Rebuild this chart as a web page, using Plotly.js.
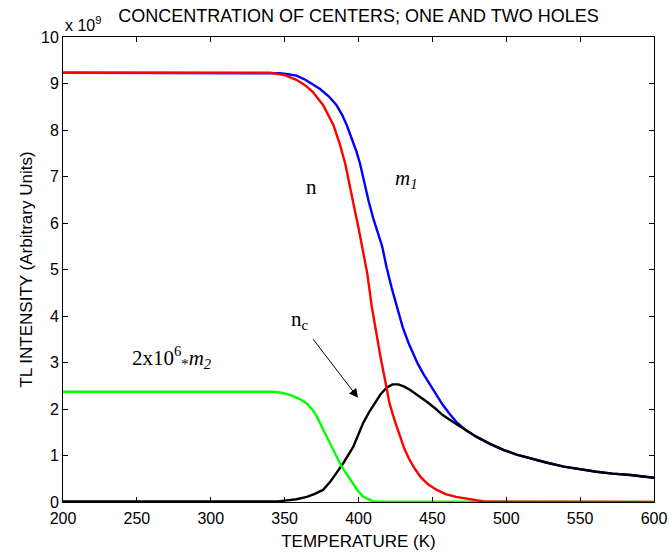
<!DOCTYPE html>
<html>
<head>
<meta charset="utf-8">
<script src="https://cdn.plot.ly/plotly-3.0.1.min.js"></script>
<style>html,body{margin:0;padding:0;background:#fff;}#chart{width:670px;height:554px;}</style>
</head>
<body>
<div id="chart"></div>
<script>
// Temperature (K) and values (x 10^9)
const tempM1 = [200, 340, 347, 352, 358, 364, 370, 374, 380, 385, 389, 392, 395, 398.7, 401, 404, 407, 410, 413, 416, 419, 422.5, 427, 430, 434, 440, 444, 448, 452, 457, 462, 466, 472, 480, 489, 498, 507, 516, 527, 539, 550, 561, 572, 584, 600];
const valM1  = [9.23, 9.23, 9.22, 9.20, 9.17, 9.08, 8.97, 8.88, 8.72, 8.54, 8.32, 8.11, 7.85, 7.53, 7.28, 6.85, 6.45, 6.10, 5.80, 5.50, 5.05, 4.60, 4.09, 3.75, 3.41, 2.98, 2.75, 2.55, 2.34, 2.09, 1.88, 1.73, 1.56, 1.40, 1.25, 1.12, 1.02, 0.94, 0.85, 0.76, 0.70, 0.65, 0.61, 0.58, 0.52];

const tempN = [200, 340, 345, 350, 358, 364, 369, 376, 383, 387.5, 391, 394, 397, 400, 403, 406, 409, 412, 415, 418, 421, 424.5, 428, 431, 434, 438, 442, 447, 453, 459, 466, 476, 485, 600];
const valN  = [9.23, 9.23, 9.21, 9.18, 9.08, 8.96, 8.82, 8.54, 8.11, 7.68, 7.28, 6.85, 6.35, 5.90, 5.40, 4.90, 4.20, 3.60, 3.10, 2.62, 2.12, 1.75, 1.40, 1.15, 0.94, 0.72, 0.54, 0.38, 0.26, 0.17, 0.11, 0.05, 0.01, 0.0];

const tempNc = [200, 345, 350, 358, 365, 370, 376, 381, 385, 390, 396.5, 403, 407, 411, 415, 419, 423, 427, 431, 435, 440, 446, 452, 457, 463, 469, 474, 480, 489, 498, 507, 516, 527, 539, 550, 561, 572, 584, 600];
const valNc  = [0.01, 0.01, 0.03, 0.06, 0.11, 0.17, 0.26, 0.44, 0.62, 0.85, 1.19, 1.69, 1.92, 2.12, 2.32, 2.46, 2.53, 2.53, 2.48, 2.41, 2.30, 2.16, 2.01, 1.87, 1.74, 1.62, 1.51, 1.40, 1.25, 1.12, 1.02, 0.94, 0.85, 0.76, 0.70, 0.65, 0.61, 0.58, 0.52];

const tempM2 = [200, 342, 348, 354, 360, 365, 369, 372, 375, 378.5, 382, 385, 388.6, 392, 395.5, 399, 403, 407, 410, 600];
const valM2  = [2.37, 2.37, 2.35, 2.30, 2.22, 2.12, 1.98, 1.83, 1.63, 1.40, 1.18, 0.97, 0.76, 0.60, 0.42, 0.27, 0.12, 0.05, 0.01, 0.0];

const xTicks = [200, 250, 300, 350, 400, 450, 500, 550, 600];
const yTicks = [0, 1, 2, 3, 4, 5, 6, 7, 8, 9, 10];

const sans = "Liberation Sans, Arial, sans-serif";
const serif = "Liberation Serif, Times New Roman, serif";

function line(x, y, color) {
  return {x: x, y: y, type: 'scatter', mode: 'lines', line: {color: color, width: 2.4}, showlegend: false, hoverinfo: 'skip'};
}

const data = [
  line(tempM1, valM1, '#0000ff'),
  line(tempNc, valNc, '#000000'),
  line(tempM2, valM2, '#00ff00'),
  line(tempN, valN, '#ff0000')
];

const axisCommon = {
  showline: true, linecolor: '#000', linewidth: 1, mirror: 'allticks',
  ticks: 'inside', ticklen: 5, tickwidth: 1, tickcolor: '#000',
  showgrid: false, zeroline: false,
  tickfont: {family: sans, size: 16, color: '#000'}
};

const layout = {
  width: 670, height: 554,
  margin: {l: 63, r: 16, t: 37, b: 52},
  paper_bgcolor: '#fff', plot_bgcolor: '#fff',
  title: {text: 'CONCENTRATION OF CENTERS; ONE AND TWO HOLES', font: {family: sans, size: 18, color: '#000'},
          xref: 'paper', x: 0.5, xanchor: 'center', yref: 'container', y: 0.971, yanchor: 'middle'},
  xaxis: Object.assign({}, axisCommon, {
    range: [200, 600], tickmode: 'array', tickvals: xTicks, ticktext: xTicks.map(String),
    ticklabelstandoff: 2,
    title: {text: 'TEMPERATURE (K)', font: {family: sans, size: 17, color: '#000'}, standoff: 8}
  }),
  yaxis: Object.assign({}, axisCommon, {
    range: [0, 10], tickmode: 'array', tickvals: yTicks, ticktext: yTicks.map(String),
    title: {text: 'TL INTENSITY (Arbitrary Units)', font: {family: sans, size: 17, color: '#000'}, standoff: 4}
  }),
  annotations: [
    {xref: 'paper', yref: 'paper', x: 0, y: 1, xanchor: 'left', yanchor: 'bottom', yshift: 1, showarrow: false,
     text: 'x 10<sup>9</sup>', font: {family: sans, size: 16, color: '#000'}},
    {x: 368.5, y: 6.77, showarrow: false, text: 'n', font: {family: serif, size: 21, color: '#000'}},
    {x: 432.8, y: 6.95, showarrow: false, text: '<i>m<sub>1</sub></i>', font: {family: serif, size: 21, color: '#000'}},
    {x: 360.4, y: 3.91, showarrow: false, text: 'n<sub>c</sub>', font: {family: serif, size: 21, color: '#000'}},
    {x: 273.8, y: 3.10, showarrow: false, text: '2x10<sup>6</sup><sub>*</sub><i>m<sub>2</sub></i>', font: {family: serif, size: 21, color: '#000'}},
    {x: 399.7, y: 2.24, ax: -46, ay: -60, axref: 'pixel', ayref: 'pixel', showarrow: true, text: '',
     arrowhead: 2, arrowsize: 1.8, arrowwidth: 1, arrowcolor: '#000'}
  ]
};

Plotly.newPlot('chart', data, layout, {displayModeBar: false, staticPlot: true});
</script>
</body>
</html>
